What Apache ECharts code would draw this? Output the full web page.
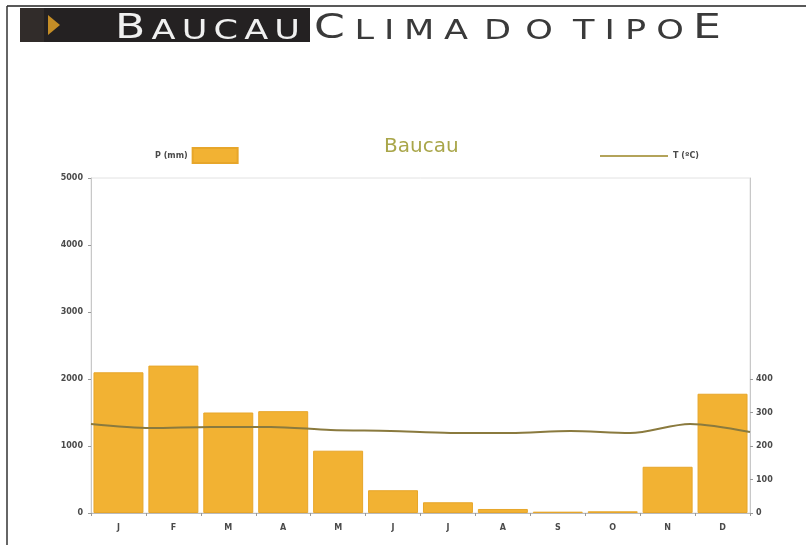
<!DOCTYPE html>
<html>
<head>
<meta charset="utf-8">
<script src="https://cdn.jsdelivr.net/npm/echarts@6/dist/echarts.min.js"></script>
<style>
  html, body { margin: 0; padding: 0; background: #fff; }
  #chart { width: 806px; height: 551px; }
</style>
</head>
<body>
<div id="chart"></div>
<script>
// Monthly climate data for Baucau (values in tenths: mm x10, °C x10)
const months = ['J', 'F', 'M', 'A', 'M', 'J', 'J', 'A', 'S', 'O', 'N', 'D'];
const precipitation = [2100, 2200, 1500, 1520, 930, 340, 160, 60, 20, 25, 690, 1780];
const temperature = [266, 254, 257, 257, 248, 245, 239, 239, 245, 239, 266, 242];
const leftTicks = [0, 1000, 2000, 3000, 4000, 5000];
const rightTicks = [0, 100, 200, 300, 400];

const chart = echarts.init(document.getElementById('chart'), null, { renderer: 'canvas' });

const labelFont = { fontSize: 8, fontWeight: 'bold', color: '#4a4a4a', fontFamily: 'DejaVu Sans' };
const plain = v => String(v);

// Letter-spaced, extended small-caps heading: each word is spread between x0 and x1,
// its first letter drawn larger when bigFirst is set.
const measureCtx = document.createElement('canvas').getContext('2d');
const BIG = 34, SMALL = 27, BASELINE = 40.5, WIDEN = 1.3;
function heading(word, x0, x1, bigFirst, color) {
  const sizes = word.split('').map((c, i) => (i === 0 && bigFirst) ? BIG : SMALL);
  const widths = word.split('').map((c, i) => {
    measureCtx.font = sizes[i] + 'px "DejaVu Sans"';
    return measureCtx.measureText(c).width * WIDEN;
  });
  const total = widths.reduce((a, b) => a + b, 0);
  const gap = word.length > 1 ? (x1 - x0 - total) / (word.length - 1) : 0;
  const out = [];
  let x = x0;
  word.split('').forEach((c, i) => {
    out.push({
      type: 'text', x: x, y: BASELINE - 0.83 * sizes[i], scaleX: WIDEN,
      style: { text: c, fill: color, fontSize: sizes[i], fontFamily: 'DejaVu Sans', verticalAlign: 'top' }
    });
    x += widths[i] + gap;
  });
  return out;
}

chart.setOption({
  backgroundColor: '#ffffff',
  animation: false,
  title: {
    text: 'Baucau',
    left: 379,
    top: 132,
    textStyle: { color: '#a9a64a', fontSize: 20, fontWeight: 'normal', fontFamily: 'DejaVu Sans' }
  },
  legend: [
    {
      data: ['P (mm)'],
      left: 150,
      top: 142,
      align: 'right',
      itemWidth: 45,
      itemHeight: 15,
      itemGap: 4,
      icon: 'rect',
      textStyle: labelFont
    },
    {
      data: ['T (ºC)'],
      left: 595,
      top: 147,
      itemWidth: 68,
      itemHeight: 2,
      icon: 'rect',
      textStyle: labelFont
    }
  ],
  grid: { left: 91, right: 56, top: 178, bottom: 38, show: true, borderColor: '#e2e2e2', borderWidth: 1 },
  xAxis: [
    {
      type: 'category',
      data: months,
      axisLine: { lineStyle: { color: '#bbbbbb' } },
      axisTick: { show: true, length: 3, lineStyle: { color: '#999' } },
      axisLabel: Object.assign({ margin: 11 }, labelFont)
    },
    {
      type: 'category',
      data: months,
      boundaryGap: false,
      show: false
    }
  ],
  yAxis: [
    {
      type: 'value',
      min: 0,
      max: 5000,
      interval: 1000,
      axisLine: { show: true, lineStyle: { color: '#c8c8c8' } },
      axisTick: { show: true, length: 3, lineStyle: { color: '#999' } },
      axisLabel: Object.assign({ margin: 8, customValues: leftTicks, formatter: plain }, labelFont),
      splitLine: { show: false }
    },
    {
      type: 'value',
      min: 0,
      max: 1000,
      interval: 100,
      position: 'right',
      axisLine: { show: true, lineStyle: { color: '#c8c8c8' } },
      axisTick: { show: true, length: 3, customValues: rightTicks, lineStyle: { color: '#999' } },
      axisLabel: Object.assign({ margin: 6, customValues: rightTicks, formatter: plain }, labelFont),
      splitLine: { show: false }
    }
  ],
  series: [
    {
      name: 'P (mm)',
      type: 'bar',
      data: precipitation,
      xAxisIndex: 0,
      yAxisIndex: 0,
      barCategoryGap: '9%',
      itemStyle: { color: '#f2b233', borderColor: '#e7a62a', borderWidth: 1 }
    },
    {
      name: 'T (ºC)',
      type: 'line',
      data: temperature,
      xAxisIndex: 1,
      yAxisIndex: 1,
      smooth: 0.3,
      symbol: 'none',
      lineStyle: { color: '#8a7a3e', width: 2 },
      itemStyle: { color: '#b3a35a' }
    }
  ],
  graphic: [
    // page frame
    { type: 'line', shape: { x1: 7, y1: 6, x2: 806, y2: 6 }, style: { stroke: '#222', lineWidth: 1.5 } },
    { type: 'line', shape: { x1: 7, y1: 6, x2: 7, y2: 545 }, style: { stroke: '#333', lineWidth: 1.5 } },
    // dark title block with gold arrow
    { type: 'rect', shape: { x: 20, y: 8, width: 290, height: 34 }, style: { fill: '#242122' } },
    { type: 'rect', shape: { x: 20, y: 8, width: 24, height: 34 }, style: { fill: '#312c2a' } },
    { type: 'polygon', shape: { points: [[48, 15], [60, 25], [48, 35]] }, style: { fill: '#c48d26' } }
  ].concat(
    heading('BAUCAU', 115, 300, true, '#f0f0f0'),
    heading('CLIMA', 314, 468, true, '#3a3a3a'),
    heading('DO', 484, 553, false, '#3a3a3a'),
    heading('TIPO', 573, 684, false, '#3a3a3a'),
    heading('E', 693, 716, true, '#3a3a3a')
  )
});
</script>
</body>
</html>
